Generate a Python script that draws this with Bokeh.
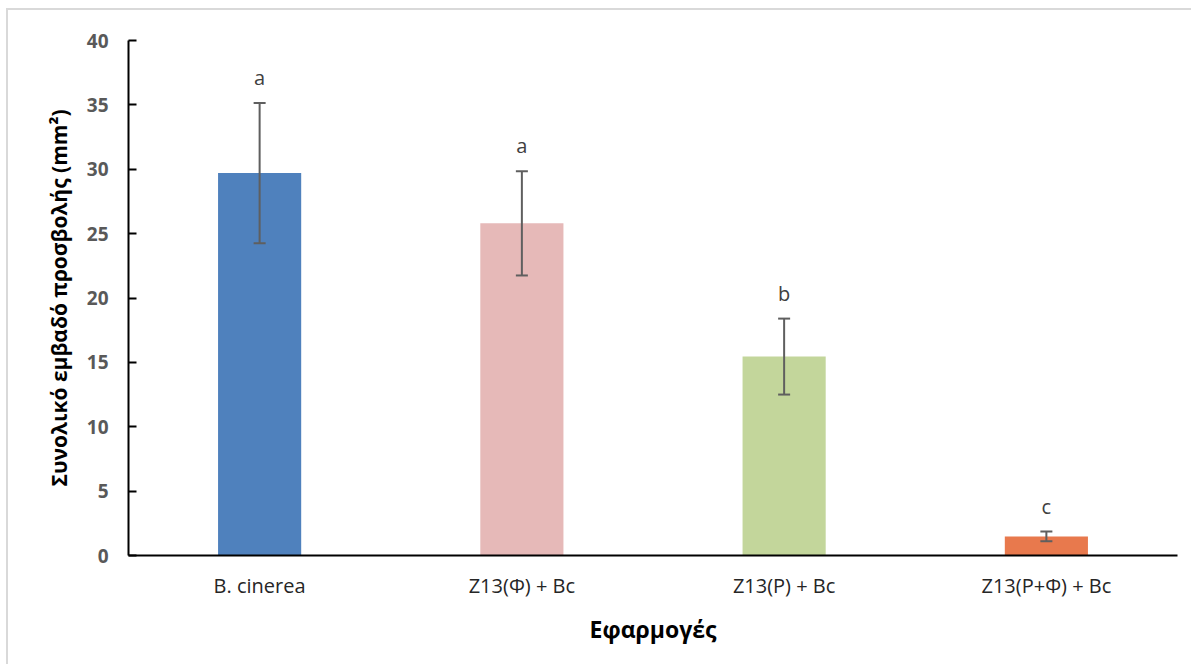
from bokeh.plotting import figure
from bokeh.models import ColumnDataSource, Whisker, TeeHead, FactorRange, Range1d, FixedTicker
from bokeh.core.properties import value
from bokeh.embed import file_html
from bokeh.resources import INLINE

# Treatments and measured lesion areas
treatments = ["B. cinerea", "Z13(Φ) + Bc", "Z13(P) + Bc", "Z13(P+Φ) + Bc"]
means = [29.7, 25.8, 15.45, 1.48]
errors = [5.45, 4.05, 2.95, 0.38]
letters = ["a", "a", "b", "c"]
bar_colors = ["#4F81BD", "#E6B9B8", "#C3D69B", "#E8794D"]
y_ticks = [0, 5, 10, 15, 20, 25, 30, 35, 40]

FONT = "Open Sans"

src = ColumnDataSource(dict(
    x=treatments,
    top=means,
    upper=[m + e for m, e in zip(means, errors)],
    lower=[m - e for m, e in zip(means, errors)],
    letter=letters,
    color=bar_colors,
))

p = figure(
    x_range=FactorRange(*treatments, range_padding=0),
    y_range=Range1d(0, 40),
    width=1185, height=656,
    output_backend="svg", toolbar_location=None,
    min_border_left=120, min_border_right=16,
    min_border_top=30, min_border_bottom=111,
    margin=(8, 0, 0, 6),
    styles={"border-left": "2px solid #d9d9d9", "border-top": "2px solid #d9d9d9"},
)
p.outline_line_color = None
p.xgrid.grid_line_color = None
p.ygrid.grid_line_color = None

p.vbar(x="x", top="top", width=0.317, fill_color="color", line_color=None, source=src)

whisker = Whisker(
    base="x", upper="upper", lower="lower", source=src,
    line_color="#5f5f5f", line_width=2, level="overlay",
    upper_head=TeeHead(size=12, line_color="#5f5f5f", line_width=2),
    lower_head=TeeHead(size=12, line_color="#5f5f5f", line_width=2),
)
p.add_layout(whisker)

p.text(x="x", y="upper", text="letter", source=src, y_offset=-12,
       text_align="center", text_baseline="bottom",
       text_font=value(FONT), text_font_size="20px", text_color="#404040")

# y axis
p.yaxis.ticker = FixedTicker(ticks=y_ticks)
p.yaxis.axis_line_color = "black"
p.yaxis.axis_line_width = 2
p.yaxis.major_tick_in = 8
p.yaxis.major_tick_out = 0
p.yaxis.major_tick_line_width = 2
p.yaxis.major_tick_line_color = "black"
p.yaxis.minor_tick_line_color = None
p.yaxis.major_label_text_font = FONT
p.yaxis.major_label_text_font_size = "19px"
p.yaxis.major_label_text_font_style = "bold"
p.yaxis.major_label_text_color = "#595959"
p.yaxis.major_label_standoff = 20
p.yaxis.axis_label = "Συνολικό εμβαδό προσβολής (mm²)"
p.yaxis.axis_label_text_font = FONT
p.yaxis.axis_label_text_font_size = "21px"
p.yaxis.axis_label_text_font_style = "bold"
p.yaxis.axis_label_text_color = "black"
p.yaxis.axis_label_standoff = 11

# x axis
p.xaxis.axis_line_color = "black"
p.xaxis.axis_line_width = 2
p.xaxis.major_tick_line_color = None
p.xaxis.minor_tick_line_color = None
p.xaxis.major_label_text_font = FONT
p.xaxis.major_label_text_font_size = "20px"
p.xaxis.major_label_text_color = "#262626"
p.xaxis.major_label_standoff = 10
p.xaxis.axis_label = "Εφαρμογές"
p.xaxis.axis_label_text_font = FONT
p.xaxis.axis_label_text_font_size = "23px"
p.xaxis.axis_label_text_font_style = "bold"
p.xaxis.axis_label_text_color = "black"
p.xaxis.axis_label_standoff = 11

open("out.html", "w").write(file_html(p, INLINE))
